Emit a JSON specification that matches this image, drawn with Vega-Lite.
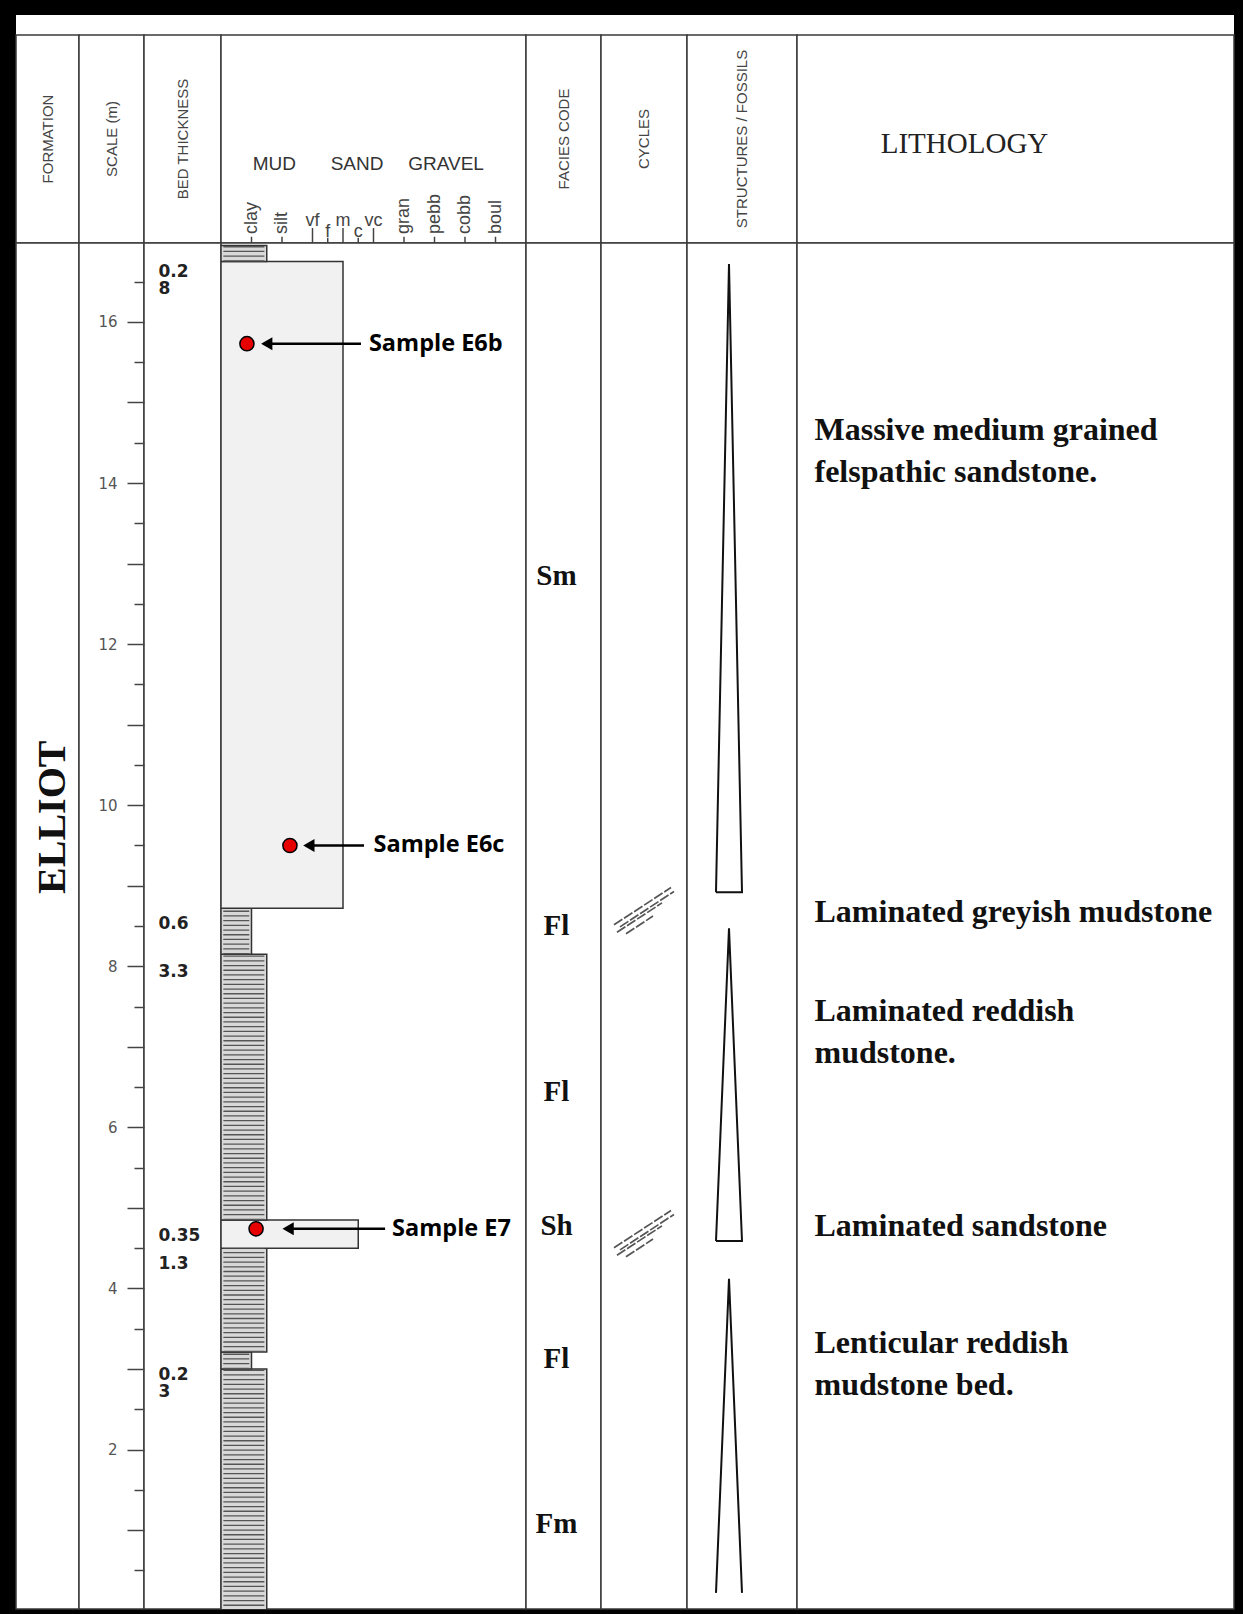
{
  "$schema": "https://vega.github.io/schema/vega-lite/v6.json",
  "background": "black",
  "padding": {"left": 15, "top": 15, "right": 10, "bottom": 5},
  "bounds": "flush",
  "spacing": 0,
  "columns": 8,
  "config": {
    "view": {"stroke": "#3a3a3a", "strokeWidth": 1.5, "fill": "white"},
    "concat": {"spacing": 0}
  },
  "datasets": {
    "beds": [
      {"base": 0.0, "top": 3.0, "lithology": "mudstone", "grain": 1.5},
      {"base": 3.0, "top": 3.21, "lithology": "mudstone", "grain": 1.0},
      {"base": 3.21, "top": 4.5, "lithology": "mudstone", "grain": 1.5},
      {"base": 4.5, "top": 4.85, "lithology": "sandstone", "grain": 4.5},
      {"base": 4.85, "top": 8.15, "lithology": "mudstone", "grain": 1.5},
      {"base": 8.15, "top": 8.72, "lithology": "mudstone", "grain": 1.0},
      {"base": 8.72, "top": 16.75, "lithology": "sandstone", "grain": 4.0},
      {"base": 16.75, "top": 16.95, "lithology": "mudstone", "grain": 1.5}
    ],
    "samples": [
      {"sample": "Sample E6b", "depth": 15.73, "grain": 0.85, "arrow_to": 1.5, "arrow_from": 4.59, "label_at": 4.85},
      {"sample": "Sample E6c", "depth": 9.5, "grain": 2.26, "arrow_to": 2.88, "arrow_from": 4.69, "label_at": 5.0},
      {"sample": "Sample E7", "depth": 4.74, "grain": 1.15, "arrow_to": 2.2, "arrow_from": 5.38, "label_at": 5.61}
    ],
    "facies": [
      {"code": "Sm", "depth": 12.84},
      {"code": "Fl", "depth": 8.5},
      {"code": "Fl", "depth": 6.44},
      {"code": "Sh", "depth": 4.77},
      {"code": "Fl", "depth": 3.13},
      {"code": "Fm", "depth": 1.08}
    ],
    "thickness": [
      {"label": "0.2\n8", "depth": 16.62},
      {"label": "0.6", "depth": 8.53},
      {"label": "3.3", "depth": 7.93},
      {"label": "0.35", "depth": 4.65},
      {"label": "1.3", "depth": 4.3},
      {"label": "0.2\n3", "depth": 2.93}
    ],
    "descriptions": [
      {"text": "Massive medium grained\nfelspathic sandstone.", "depth": 14.53},
      {"text": "Laminated greyish mudstone", "depth": 8.55},
      {"text": "Laminated reddish\nmudstone.", "depth": 7.32},
      {"text": "Laminated sandstone", "depth": 4.65},
      {"text": "Lenticular reddish\nmudstone bed.", "depth": 3.2}
    ],
    "cycles": [
      {"cycle": "A", "v": 1, "w": -1, "depth": 8.92},
      {"cycle": "A", "v": 2, "w": 0, "depth": 16.72},
      {"cycle": "A", "v": 3, "w": 1, "depth": 8.92},
      {"cycle": "A", "v": 4, "w": -1, "depth": 8.92},
      {"cycle": "B", "v": 1, "w": -1, "depth": 4.59},
      {"cycle": "B", "v": 2, "w": 0, "depth": 8.47},
      {"cycle": "B", "v": 3, "w": 1, "depth": 4.59},
      {"cycle": "B", "v": 4, "w": -1, "depth": 4.59},
      {"cycle": "C", "v": 1, "w": -1, "depth": 0.22},
      {"cycle": "C", "v": 2, "w": 0, "depth": 4.12},
      {"cycle": "C", "v": 3, "w": 1, "depth": 0.22}
    ],
    "laminations": [
      {"structure": "horizontal lamination", "depth": 8.72},
      {"structure": "horizontal lamination", "depth": 4.71}
    ],
    "grainClasses": [
      {"size": "clay", "phi": 1, "group": "MUD"},
      {"size": "silt", "phi": 2, "group": "MUD"},
      {"size": "vf", "phi": 3, "group": "SAND"},
      {"size": "f", "phi": 3.5, "group": "SAND"},
      {"size": "m", "phi": 4, "group": "SAND"},
      {"size": "c", "phi": 4.5, "group": "SAND"},
      {"size": "vc", "phi": 5, "group": "SAND"},
      {"size": "gran", "phi": 6, "group": "GRAVEL"},
      {"size": "pebb", "phi": 7, "group": "GRAVEL"},
      {"size": "cobb", "phi": 8, "group": "GRAVEL"},
      {"size": "boul", "phi": 9, "group": "GRAVEL"}
    ],
    "grainGroups": [
      {"group": "MUD", "center": 1.75},
      {"group": "SAND", "center": 4.46},
      {"group": "GRAVEL", "center": 7.38}
    ]
  },
  "concat": [
    {"width": 63, "height": 20, "view": {"stroke": null}, "data": {"values": [{"t": ""}]}, "mark": "text",
     "encoding": {"y": {"datum": 0.5, "type": "quantitative", "scale": {"domain": [0, 1]}, "axis": null}, "text": {"field": "t"}}},
    {"width": 65, "height": 20, "view": {"stroke": null}, "data": {"values": [{"t": ""}]}, "mark": "text",
     "encoding": {"y": {"datum": 0.5, "type": "quantitative", "scale": {"domain": [0, 1]}, "axis": null}, "text": {"field": "t"}}},
    {"width": 77, "height": 20, "view": {"stroke": null}, "data": {"values": [{"t": ""}]}, "mark": "text",
     "encoding": {"y": {"datum": 0.5, "type": "quantitative", "scale": {"domain": [0, 1]}, "axis": null}, "text": {"field": "t"}}},
    {"width": 305, "height": 20, "view": {"stroke": null}, "data": {"values": [{"t": ""}]}, "mark": "text",
     "encoding": {"y": {"datum": 0.5, "type": "quantitative", "scale": {"domain": [0, 1]}, "axis": null}, "text": {"field": "t"}}},
    {"width": 75, "height": 20, "view": {"stroke": null}, "data": {"values": [{"t": ""}]}, "mark": "text",
     "encoding": {"y": {"datum": 0.5, "type": "quantitative", "scale": {"domain": [0, 1]}, "axis": null}, "text": {"field": "t"}}},
    {"width": 86, "height": 20, "view": {"stroke": null}, "data": {"values": [{"t": ""}]}, "mark": "text",
     "encoding": {"y": {"datum": 0.5, "type": "quantitative", "scale": {"domain": [0, 1]}, "axis": null}, "text": {"field": "t"}}},
    {"width": 110, "height": 20, "view": {"stroke": null}, "data": {"values": [{"t": ""}]}, "mark": "text",
     "encoding": {"y": {"datum": 0.5, "type": "quantitative", "scale": {"domain": [0, 1]}, "axis": null}, "text": {"field": "t"}}},
    {"width": 437, "height": 20, "view": {"stroke": null}, "data": {"values": [{"t": ""}]}, "mark": "text",
     "encoding": {"y": {"datum": 0.5, "type": "quantitative", "scale": {"domain": [0, 1]}, "axis": null}, "text": {"field": "t"}}},

    {"width": 63, "height": 208, "data": {"values": [{"h": "FORMATION"}]},
     "mark": {"type": "text", "angle": 270, "align": "center", "baseline": "middle", "font": "Liberation Sans", "fontSize": 15, "color": "#444"},
     "encoding": {"y": {"datum": 0.5, "type": "quantitative", "scale": {"domain": [0, 1]}, "axis": null}, "text": {"field": "h"}}},
    {"width": 65, "height": 208, "data": {"values": [{"h": "SCALE (m)"}]},
     "mark": {"type": "text", "angle": 270, "align": "center", "baseline": "middle", "font": "Liberation Sans", "fontSize": 15, "color": "#444"},
     "encoding": {"y": {"datum": 0.5, "type": "quantitative", "scale": {"domain": [0, 1]}, "axis": null}, "text": {"field": "h"}}},
    {"width": 77, "height": 208, "data": {"values": [{"h": "BED THICKNESS"}]},
     "mark": {"type": "text", "angle": 270, "align": "center", "baseline": "middle", "font": "Liberation Sans", "fontSize": 15, "color": "#444"},
     "encoding": {"y": {"datum": 0.5, "type": "quantitative", "scale": {"domain": [0, 1]}, "axis": null}, "text": {"field": "h"}}},
    {"width": 305, "height": 208,
     "layer": [
       {"data": {"name": "grainClasses"},
        "transform": [{"filter": "indexof(['vf','m','vc'], datum.size) >= 0"}],
        "mark": {"type": "rule", "color": "#444", "strokeWidth": 1.5},
        "encoding": {
          "x": {"field": "phi", "type": "quantitative", "scale": {"domain": [0, 10], "nice": false, "zero": false}, "axis": null},
          "y": {"datum": 0, "type": "quantitative", "scale": {"domain": [0, 1], "nice": false, "zero": false}, "axis": null},
          "y2": {"datum": 0.072}
        }},
       {"data": {"name": "grainClasses"},
        "transform": [{"filter": "indexof(['f','c'], datum.size) >= 0"}],
        "mark": {"type": "rule", "color": "#444", "strokeWidth": 1.5},
        "encoding": {
          "x": {"field": "phi", "type": "quantitative", "scale": {"domain": [0, 10], "nice": false, "zero": false}, "axis": null},
          "y": {"datum": 0, "type": "quantitative", "scale": {"domain": [0, 1], "nice": false, "zero": false}, "axis": null},
          "y2": {"datum": 0.025}
        }},
       {"data": {"name": "grainClasses"},
        "transform": [{"filter": "datum.group !== 'SAND'"}],
        "mark": {"type": "rule", "color": "#444", "strokeWidth": 1.5},
        "encoding": {
          "x": {"field": "phi", "type": "quantitative", "scale": {"domain": [0, 10], "nice": false, "zero": false}, "axis": null},
          "y": {"datum": 0, "type": "quantitative", "scale": {"domain": [0, 1], "nice": false, "zero": false}, "axis": null},
          "y2": {"datum": 0.03}
        }},
       {"data": {"name": "grainClasses"},
        "transform": [{"filter": "datum.group !== 'SAND'"}],
        "mark": {"type": "text", "angle": 270, "align": "left", "baseline": "middle", "font": "Liberation Sans", "fontSize": 18, "color": "#444"},
        "encoding": {
          "x": {"field": "phi", "type": "quantitative", "scale": {"domain": [0, 10], "nice": false, "zero": false}, "axis": null},
          "y": {"datum": 0.043, "type": "quantitative", "scale": {"domain": [0, 1], "nice": false, "zero": false}, "axis": null},
          "text": {"field": "size"}
        }},
       {"data": {"name": "grainClasses"},
        "transform": [{"filter": "indexof(['vf','m','vc'], datum.size) >= 0"}],
        "mark": {"type": "text", "align": "center", "baseline": "alphabetic", "font": "Liberation Sans", "fontSize": 18, "color": "#444"},
        "encoding": {
          "x": {"field": "phi", "type": "quantitative", "scale": {"domain": [0, 10], "nice": false, "zero": false}, "axis": null},
          "y": {"datum": 0.08, "type": "quantitative", "scale": {"domain": [0, 1], "nice": false, "zero": false}, "axis": null},
          "text": {"field": "size"}
        }},
       {"data": {"name": "grainClasses"},
        "transform": [{"filter": "indexof(['f','c'], datum.size) >= 0"}],
        "mark": {"type": "text", "align": "center", "baseline": "alphabetic", "font": "Liberation Sans", "fontSize": 18, "color": "#444"},
        "encoding": {
          "x": {"field": "phi", "type": "quantitative", "scale": {"domain": [0, 10], "nice": false, "zero": false}, "axis": null},
          "y": {"datum": 0.03, "type": "quantitative", "scale": {"domain": [0, 1], "nice": false, "zero": false}, "axis": null},
          "text": {"field": "size"}
        }},
       {"data": {"name": "grainGroups"},
        "mark": {"type": "text", "align": "center", "baseline": "middle", "font": "Liberation Sans", "fontSize": 19, "color": "#333"},
        "encoding": {
          "x": {"field": "center", "type": "quantitative", "scale": {"domain": [0, 10], "nice": false, "zero": false}, "axis": null},
          "y": {"datum": 0.38, "type": "quantitative", "scale": {"domain": [0, 1], "nice": false, "zero": false}, "axis": null},
          "text": {"field": "group"}
        }}
     ]},
    {"width": 75, "height": 208, "data": {"values": [{"h": "FACIES CODE"}]},
     "mark": {"type": "text", "angle": 270, "align": "center", "baseline": "middle", "font": "Liberation Sans", "fontSize": 15, "color": "#444"},
     "encoding": {"y": {"datum": 0.5, "type": "quantitative", "scale": {"domain": [0, 1]}, "axis": null}, "text": {"field": "h"}}},
    {"width": 86, "height": 208, "data": {"values": [{"h": "CYCLES"}]},
     "mark": {"type": "text", "angle": 270, "align": "center", "baseline": "middle", "font": "Liberation Sans", "fontSize": 15, "color": "#444"},
     "encoding": {"y": {"datum": 0.5, "type": "quantitative", "scale": {"domain": [0, 1]}, "axis": null}, "text": {"field": "h"}}},
    {"width": 110, "height": 208, "data": {"values": [{"h": "STRUCTURES / FOSSILS"}]},
     "mark": {"type": "text", "angle": 270, "align": "center", "baseline": "middle", "font": "Liberation Sans", "fontSize": 15, "color": "#444"},
     "encoding": {"y": {"datum": 0.5, "type": "quantitative", "scale": {"domain": [0, 1]}, "axis": null}, "text": {"field": "h"}}},
    {"width": 437, "height": 208, "data": {"values": [{"h": "LITHOLOGY"}]},
     "mark": {"type": "text", "align": "center", "baseline": "middle", "dx": -51, "dy": 5, "font": "Liberation Serif", "fontSize": 29, "color": "#222"},
     "encoding": {"y": {"datum": 0.5, "type": "quantitative", "scale": {"domain": [0, 1]}, "axis": null}, "text": {"field": "h"}}},

    {"width": 63, "height": 1366,
     "data": {"values": [{"formation": "ELLIOT", "depth": 9.85}]},
     "mark": {"type": "text", "angle": 270, "align": "center", "baseline": "middle", "dy": 5, "font": "Liberation Serif", "fontWeight": "bold", "fontSize": 40, "color": "#111"},
     "encoding": {
       "y": {"field": "depth", "type": "quantitative", "scale": {"domain": [0.02, 16.98], "nice": false, "zero": false}, "axis": null},
       "text": {"field": "formation"}
     }},
    {"width": 65, "height": 1366,
     "data": {"values": [{"t": ""}]},
     "mark": "text",
     "encoding": {
       "y": {"datum": 8, "type": "quantitative", "scale": {"domain": [0.02, 16.98], "nice": false, "zero": false}, "axis": null},
       "text": {"field": "t"}
     }},
    {"width": 77, "height": 1366,
     "data": {"name": "thickness"},
     "mark": {"type": "text", "align": "left", "baseline": "middle", "dx": -24, "lineBreak": "\n", "lineHeight": 17.5, "font": "DejaVu Sans", "fontWeight": "bold", "fontSize": 17, "color": "#222"},
     "encoding": {
       "y": {"field": "depth", "type": "quantitative",
             "scale": {"domain": [0.02, 16.98], "nice": false, "zero": false},
             "axis": {
               "orient": "left", "domain": false, "grid": false, "title": null,
               "values": [0.5, 1, 1.5, 2, 2.5, 3, 3.5, 4, 4.5, 5, 5.5, 6, 6.5, 7, 7.5, 8, 8.5, 9, 9.5, 10, 10.5, 11, 11.5, 12, 12.5, 13, 13.5, 14, 14.5, 15, 15.5, 16, 16.5],
               "tickSize": {"condition": {"test": "datum.value % 1 !== 0", "value": 10}, "value": 17},
               "tickColor": "#444", "tickWidth": 1.5,
               "labelExpr": "datum.value % 2 === 0 ? format(datum.value, 'd') : ''",
               "labelFont": "DejaVu Sans", "labelFontSize": 15, "labelColor": "#555", "labelPadding": 10
             }},
       "text": {"field": "label"}
     }},
    {"width": 305, "height": 1366,
     "layer": [
       {"data": {"name": "beds"},
        "mark": {"type": "rect", "stroke": "#333", "strokeWidth": 1.5, "clip": true},
        "encoding": {
          "x": {"field": "grain", "type": "quantitative", "scale": {"domain": [0, 10], "nice": false, "zero": false}, "axis": null},
          "x2": {"datum": 0},
          "y": {"field": "base", "type": "quantitative", "scale": {"domain": [0.02, 16.98], "nice": false, "zero": false}, "axis": null},
          "y2": {"field": "top"},
          "fill": {"field": "lithology", "type": "nominal", "scale": {"domain": ["mudstone", "sandstone"], "range": ["#d8d8d8", "#f1f1f1"]}, "legend": null}
        }},
       {"data": {"name": "beds"},
        "transform": [{"filter": "datum.lithology === 'mudstone' && datum.grain === 1.5"}],
        "mark": {"type": "rule", "color": "#555", "strokeWidth": 41, "strokeDash": [1.3, 3.4], "clip": true},
        "encoding": {
          "x": {"datum": 0.75, "type": "quantitative", "scale": {"domain": [0, 10], "nice": false, "zero": false}, "axis": null},
          "y": {"field": "base", "type": "quantitative", "scale": {"domain": [0.02, 16.98], "nice": false, "zero": false}, "axis": null},
          "y2": {"field": "top"}
        }},
       {"data": {"name": "beds"},
        "transform": [{"filter": "datum.lithology === 'mudstone' && datum.grain === 1"}],
        "mark": {"type": "rule", "color": "#555", "strokeWidth": 26, "strokeDash": [1.3, 3.4], "clip": true},
        "encoding": {
          "x": {"datum": 0.5, "type": "quantitative", "scale": {"domain": [0, 10], "nice": false, "zero": false}, "axis": null},
          "y": {"field": "base", "type": "quantitative", "scale": {"domain": [0.02, 16.98], "nice": false, "zero": false}, "axis": null},
          "y2": {"field": "top"}
        }},
       {"data": {"name": "samples"},
        "mark": {"type": "rule", "color": "black", "strokeWidth": 2.5},
        "encoding": {
          "x": {"field": "arrow_to", "type": "quantitative", "scale": {"domain": [0, 10], "nice": false, "zero": false}, "axis": null},
          "x2": {"field": "arrow_from"},
          "y": {"field": "depth", "type": "quantitative", "scale": {"domain": [0.02, 16.98], "nice": false, "zero": false}, "axis": null}
        }},
       {"data": {"name": "samples"},
        "mark": {"type": "point", "shape": "triangle-left", "filled": true, "color": "black", "size": 170, "opacity": 1},
        "encoding": {
          "x": {"field": "arrow_to", "type": "quantitative", "scale": {"domain": [0, 10], "nice": false, "zero": false}, "axis": null},
          "y": {"field": "depth", "type": "quantitative", "scale": {"domain": [0.02, 16.98], "nice": false, "zero": false}, "axis": null}
        }},
       {"data": {"name": "samples"},
        "mark": {"type": "point", "shape": "circle", "filled": true, "fill": "#e60000", "stroke": "black", "strokeWidth": 1.5, "size": 200, "opacity": 1},
        "encoding": {
          "x": {"field": "grain", "type": "quantitative", "scale": {"domain": [0, 10], "nice": false, "zero": false}, "axis": null},
          "y": {"field": "depth", "type": "quantitative", "scale": {"domain": [0.02, 16.98], "nice": false, "zero": false}, "axis": null}
        }},
       {"data": {"name": "samples"},
        "mark": {"type": "text", "align": "left", "baseline": "middle", "font": "Open Sans", "fontWeight": "bold", "fontSize": 23.5, "color": "black"},
        "encoding": {
          "x": {"field": "label_at", "type": "quantitative", "scale": {"domain": [0, 10], "nice": false, "zero": false}, "axis": null},
          "y": {"field": "depth", "type": "quantitative", "scale": {"domain": [0.02, 16.98], "nice": false, "zero": false}, "axis": null},
          "text": {"field": "sample"}
        }}
     ]},
    {"width": 75, "height": 1366,
     "data": {"name": "facies"},
     "mark": {"type": "text", "align": "center", "baseline": "middle", "dx": -7, "font": "Liberation Serif", "fontWeight": "bold", "fontSize": 29, "color": "#111"},
     "encoding": {
       "y": {"field": "depth", "type": "quantitative", "scale": {"domain": [0.02, 16.98], "nice": false, "zero": false}, "axis": null},
       "text": {"field": "code"}
     }},
    {"width": 86, "height": 1366,
     "data": {"name": "laminations"},
     "mark": {"type": "point", "filled": false, "stroke": "#555", "strokeWidth": 1.7, "size": 3600, "opacity": 1, "strokeDash": [10, 2],
              "shape": "M-1,0.55L0.9,-0.69M-0.8,0.62L1,-0.56M-0.9,0.8L0.6,-0.18M-0.6,0.85L0.3,0.26"},
     "encoding": {
       "y": {"field": "depth", "type": "quantitative", "scale": {"domain": [0.02, 16.98], "nice": false, "zero": false}, "axis": null}
     }},
    {"width": 110, "height": 1366,
     "data": {"name": "cycles"},
     "mark": {"type": "line", "color": "#111", "strokeWidth": 2},
     "encoding": {
       "x": {"field": "w", "type": "quantitative", "scale": {"domain": [-3.23, 5.23], "nice": false, "zero": false}, "axis": null},
       "y": {"field": "depth", "type": "quantitative", "scale": {"domain": [0.02, 16.98], "nice": false, "zero": false}, "axis": null},
       "detail": {"field": "cycle"},
       "order": {"field": "v"}
     }},
    {"width": 437, "height": 1366,
     "data": {"name": "descriptions"},
     "mark": {"type": "text", "align": "left", "baseline": "alphabetic", "dx": -201, "lineBreak": "\n", "lineHeight": 42, "font": "Liberation Serif", "fontWeight": "bold", "fontSize": 32, "color": "#111"},
     "encoding": {
       "y": {"field": "depth", "type": "quantitative", "scale": {"domain": [0.02, 16.98], "nice": false, "zero": false}, "axis": null},
       "text": {"field": "text"}
     }}
  ]
}
